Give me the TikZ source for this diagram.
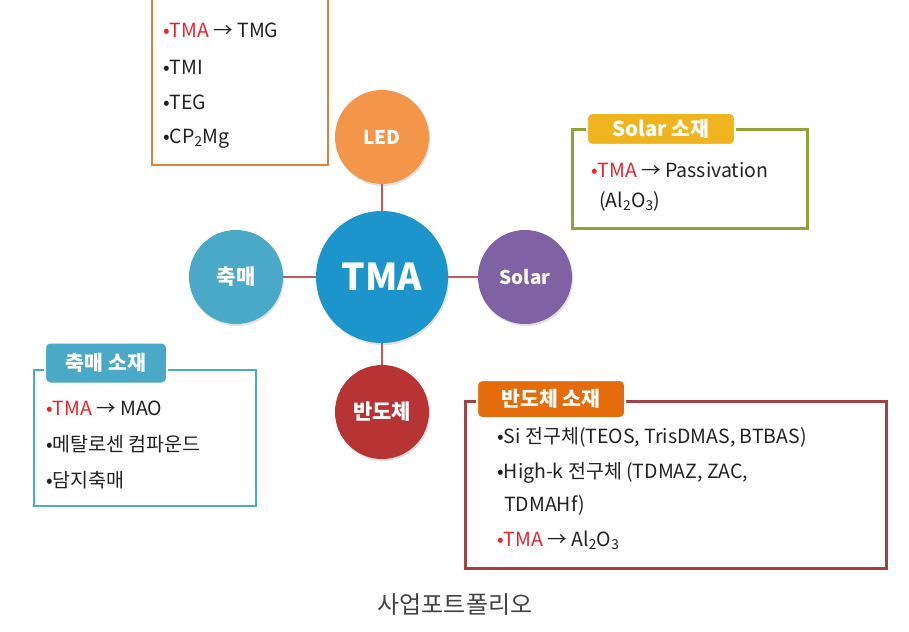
\documentclass[tikz,border=0pt]{standalone}
\usepackage{fontspec}
\setmainfont{Noto Sans CJK KR}
\usetikzlibrary{shadows}
\definecolor{cTMA}{HTML}{1B95CB}
\definecolor{cLED}{HTML}{F4964A}
\definecolor{cSolar}{HTML}{7F62A3}
\definecolor{cCat}{HTML}{4AA9C6}
\definecolor{cSemi}{HTML}{B83333}
\definecolor{cLink}{HTML}{C9545A}
\definecolor{bLED}{HTML}{E0823A}
\definecolor{bSolar}{HTML}{93A236}
\definecolor{bCat}{HTML}{4BACC6}
\definecolor{bSemi}{HTML}{A04246}
\definecolor{tSolar}{HTML}{F0B41E}
\definecolor{tSemi}{HTML}{E46C0A}
\definecolor{txt}{HTML}{222222}
\definecolor{hot}{HTML}{E8242E}
\begin{document}
\begin{tikzpicture}[x=1pt,y=-1pt,
  hub/.style={circle, inner sep=0pt, minimum size=94pt, text=white,
    font=\bfseries\fontsize{19}{22}\selectfont,
    drop shadow={shadow xshift=1pt, shadow yshift=-2pt, opacity=0.25}},
  link/.style={draw=cLink, line width=2pt},
  frame/.style={draw, line width=2.5pt, inner sep=0pt},
  tab/.style={rounded corners=5pt, draw=white, line width=2pt, inner sep=0pt,
    text=white, font=\bfseries\fontsize{20.5}{24}\selectfont},
  item/.style={anchor=west, inner sep=0pt, text=txt, font=\fontsize{19.5}{23}\selectfont}
]
\clip (0,0) rectangle (909,631);
\fill[white] (0,0) rectangle (909,631);

% hubs
\node[hub, minimum size=132pt, fill=cTMA, font=\bfseries\fontsize{37}{42}\selectfont] (tma) at (382,277) {TMA};
\node[hub, fill=cLED] (led) at (382,137) {LED};
\node[hub, fill=cSolar] (solar) at (525,277) {Solar};
\node[hub, fill=cCat, font=\bfseries\fontsize{21}{24}\selectfont] (cat) at (236,277) {축매};
\node[hub, fill=cSemi, font=\bfseries\fontsize{21}{24}\selectfont] (semi) at (382,412) {반도체};
\draw[link] (tma) -- (led);
\draw[link] (tma) -- (solar);
\draw[link] (tma) -- (cat);
\draw[link] (tma) -- (semi);

% LED box
\node[frame, draw=bLED, minimum width=176pt, minimum height=190pt] (ledbox) at (240,70) {};
\node[item] (l1) at (163,30) {\textcolor{hot}{•TMA} → TMG};
\node[item] (l2) at (163,67) {•TMI};
\node[item] (l3) at (163,102) {•TEG};
\node[item] (l4) at (163,139) {•CP\textsubscript{2}Mg};

% Solar box
\node[frame, draw=bSolar, minimum width=235pt, minimum height=99pt] (solbox) at (690,179) {};
\node[tab, fill=tSolar, minimum width=148pt, minimum height=32pt] (soltab) at (661,129) {Solar 소재};
\node[item] (s1) at (591,170) {\textcolor{hot}{•TMA} → Passivation};
\node[item] (s2) at (599,201) {(Al\textsubscript{2}O\textsubscript{3})};

% Catalyst box
\node[frame, draw=bCat, minimum width=222pt, minimum height=136pt] (catbox) at (145,438) {};
\node[tab, fill=cCat, minimum width=122pt, minimum height=41pt] (cattab) at (106,363) {축매 소재};
\node[item] (c1) at (46,408) {\textcolor{hot}{•TMA} → MAO};
\node[item] (c2) at (46,444) {•메탈로센 컴파운드};
\node[item] (c3) at (46,480) {•담지축매};

% Semiconductor box
\node[frame, draw=bSemi, minimum width=421pt, minimum height=167pt] (semibox) at (676,485) {};
\node[tab, fill=tSemi, minimum width=148pt, minimum height=38pt] (semitab) at (551,399) {반도체 소재};
\node[item] (d1) at (497,437) {•Si 전구체(TEOS, TrisDMAS, BTBAS)};
\node[item] (d2) at (497,473) {•High-k 전구체 (TDMAZ, ZAC,};
\node[item] (d3) at (504,505) {TDMAHf)};
\node[item] (d4) at (497,540) {\textcolor{hot}{•TMA} → Al\textsubscript{2}O\textsubscript{3}};

% caption
\node[text=txt!85, font=\fontsize{24}{28}\selectfont, inner sep=0pt] (cap) at (455,605) {사업포트폴리오};
\end{tikzpicture}
\end{document}
